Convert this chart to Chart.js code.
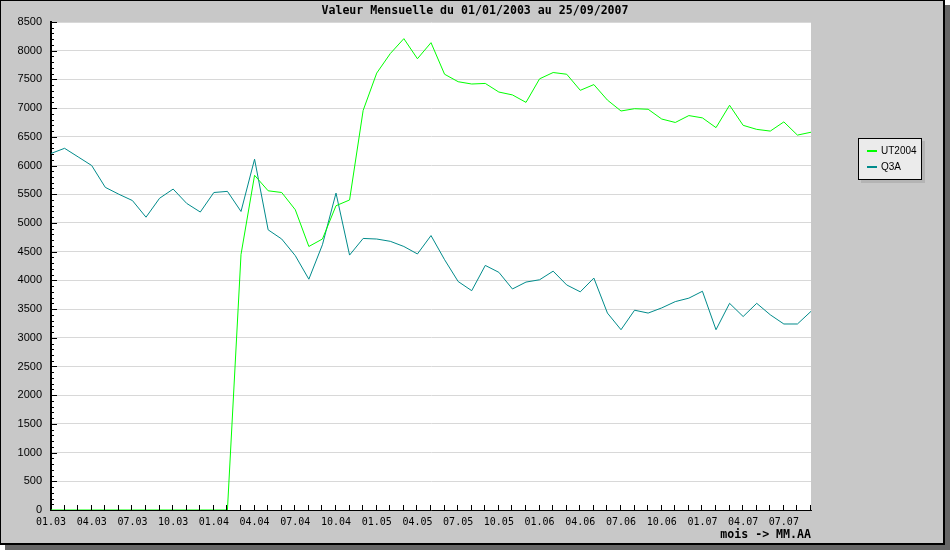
<!DOCTYPE html>
<html>
<head>
<meta charset="utf-8">
<script src="https://cdn.jsdelivr.net/npm/chart.js@4/dist/chart.umd.min.js"></script>
<style>
  html, body { margin: 0; padding: 0; background: #fff; }
  canvas { display: block; }
</style>
</head>
<body>
<canvas id="myChart" width="950" height="550"></canvas>
<script>
// months 01.03 .. 09.07
let months = [
  '01.03','02.03','03.03','04.03','05.03','06.03','07.03','08.03','09.03','10.03','11.03','12.03',
  '01.04','02.04','03.04','04.04','05.04','06.04','07.04','08.04','09.04','10.04','11.04','12.04',
  '01.05','02.05','03.05','04.05','05.05','06.05','07.05','08.05','09.05','10.05','11.05','12.05',
  '01.06','02.06','03.06','04.06','05.06','06.06','07.06','08.06','09.06','10.06','11.06','12.06',
  '01.07','02.07','03.07','04.07','05.07','06.07','07.07','08.07','09.07'
];

let ut2004 = [
  0, 0, 0, 0, 0, 0, 0, 0, 0, 0, 0, 0,
  0, 0, 4450, 5830, 5560, 5530, 5230, 4590, 4720, 5300, 5400, 6960,
  7610, 7950, 8210, 7860, 8140, 7590, 7460, 7420, 7430, 7280, 7230, 7100,
  7510, 7620, 7590, 7310, 7410, 7140, 6950, 6990, 6980, 6810, 6750, 6870,
  6830, 6660, 7050, 6700, 6630, 6600, 6760, 6530, 6580
];

let q3a = [
  6210, 6300, 6150, 6000, 5620, 5500, 5390, 5100, 5430, 5590, 5340, 5190,
  5530, 5550, 5200, 6110, 4880, 4720, 4430, 4020, 4620, 5520, 4440, 4730,
  4720, 4680, 4590, 4460, 4780, 4360, 3980, 3820, 4260, 4140, 3850, 3970,
  4010, 4160, 3920, 3800, 4040, 3430, 3140, 3480, 3430, 3520, 3630, 3690,
  3810, 3140, 3600, 3370, 3600, 3400, 3240, 3240, 3460
];

let seriesNames = ['UT2004', 'Q3A'];
let seriesColors = ['#00ff00', '#008b8b'];
let chartTitle = 'Valeur Mensuelle du 01/01/2003 au 25/09/2007';
let xTitle = 'mois -> MM.AA';

const MONO = '"DejaVu Sans Mono", "Liberation Mono", monospace';
const SANS = '"Liberation Sans", Arial, sans-serif';

// frame, inner ticks, title and legend
const decor = {
  id: 'decor',
  beforeDraw(chart) {
    const c = chart.ctx, a = chart.chartArea;
    c.save();
    c.fillStyle = '#666666';
    c.fillRect(5, 5, 945, 545);
    c.fillStyle = '#c8c8c8';
    c.fillRect(0, 0, 945, 545);
    c.fillStyle = '#000';
    c.fillRect(0, 0, 945, 1);
    c.fillRect(0, 0, 1, 545);
    c.fillRect(943, 0, 2, 545);
    c.fillRect(0, 543, 945, 2);
    c.fillStyle = '#ffffff';
    c.fillRect(a.left, a.top, a.right - a.left, a.bottom - a.top);
    c.restore();
  },
  afterDraw(chart) {
    const c = chart.ctx, a = chart.chartArea;
    const xs = chart.scales.x, ys = chart.scales.y;
    c.save();
    c.strokeStyle = '#000';
    c.lineWidth = 1;
    c.beginPath();
    // month ticks on x axis, pointing up
    for (let i = 1; i < months.length; i++) {
      let px = Math.round(xs.getPixelForValue(i)) - 0.5;
      c.moveTo(px, a.bottom);
      c.lineTo(px, a.bottom - 5);
    }
    // minor / major ticks on y axis
    for (let v = 0; v <= 8500; v += 100) {
      let py = Math.round(ys.getPixelForValue(v)) + 0.5;
      let len = v % 500 === 0 ? 6 : 3;
      c.moveTo(a.left, py);
      c.lineTo(a.left + len, py);
    }
    c.stroke();

    // title
    c.fillStyle = '#000';
    c.font = 'bold 11.6px ' + MONO;
    c.textAlign = 'center';
    c.textBaseline = 'middle';
    c.fillText(chartTitle, 475, 11);

    // legend
    const lx = 858, ly = 138, lw = 64, lh = 42;
    c.fillStyle = '#b4b4b4';
    c.fillRect(lx + 3, ly + 3, lw, lh);
    c.fillStyle = '#ebebeb';
    c.fillRect(lx, ly, lw, lh);
    c.strokeStyle = '#000';
    c.strokeRect(lx + 0.5, ly + 0.5, lw - 1, lh - 1);
    c.font = '10px ' + SANS;
    c.textAlign = 'left';
    chart.data.datasets.forEach((ds, i) => {
      let yy = ly + 13 + i * 16;
      c.strokeStyle = ds.borderColor;
      c.lineWidth = 2;
      c.beginPath();
      c.moveTo(lx + 9, yy);
      c.lineTo(lx + 19, yy);
      c.stroke();
      c.fillStyle = '#000';
      c.fillText(ds.label, lx + 23, yy + 0.5);
    });
    c.restore();
  }
};

let ctx = document.getElementById('myChart').getContext('2d');

let chart = new Chart(ctx, {
  type: 'line',
  data: {
    labels: months,
    datasets: [{
      label: seriesNames[0],
      data: ut2004,
      borderColor: seriesColors[0],
      backgroundColor: seriesColors[0],
      borderWidth: 1,
      pointRadius: 0,
      tension: 0,
    },
    {
      label: seriesNames[1],
      data: q3a,
      borderColor: seriesColors[1],
      backgroundColor: seriesColors[1],
      borderWidth: 1,
      pointRadius: 0,
      tension: 0,
    }]
  },
  options: {
    responsive: false,
    animation: false,
    devicePixelRatio: 1,
    layout: { padding: { top: 22, right: 139, bottom: 6, left: 0 } },
    plugins: {
      legend: { display: false },
      title: { display: false },
      tooltip: { enabled: false }
    },
    scales: {
      x: {
        type: 'category',
        offset: false,
        afterFit: s => { s.height = 34; },
        grid: { display: false, drawTicks: false },
        border: { display: true, color: '#000', width: 1 },
        ticks: {
          autoSkip: false,
          maxRotation: 0,
          padding: 6,
          color: '#000',
          font: { family: MONO, size: 10 },
          callback: (val, i) => i % 3 === 0 ? months[i] : ''
        },
        title: {
          display: true,
          text: xTitle,
          align: 'end',
          color: '#000',
          font: { family: MONO, size: 11.6, weight: 'bold' },
          padding: { top: 0, bottom: 2 }
        }
      },
      y: {
        min: 0,
        max: 8500,
        afterFit: s => { s.width = 51; },
        grid: { color: '#d8d8d8', lineWidth: 1, drawTicks: false },
        border: { display: true, color: '#000', width: 2 },
        ticks: {
          stepSize: 500,
          padding: 9,
          color: '#000',
          font: { family: SANS, size: 11 },
          callback: v => String(v)
        }
      }
    }
  },
  plugins: [decor]
});
</script>
</body>
</html>
